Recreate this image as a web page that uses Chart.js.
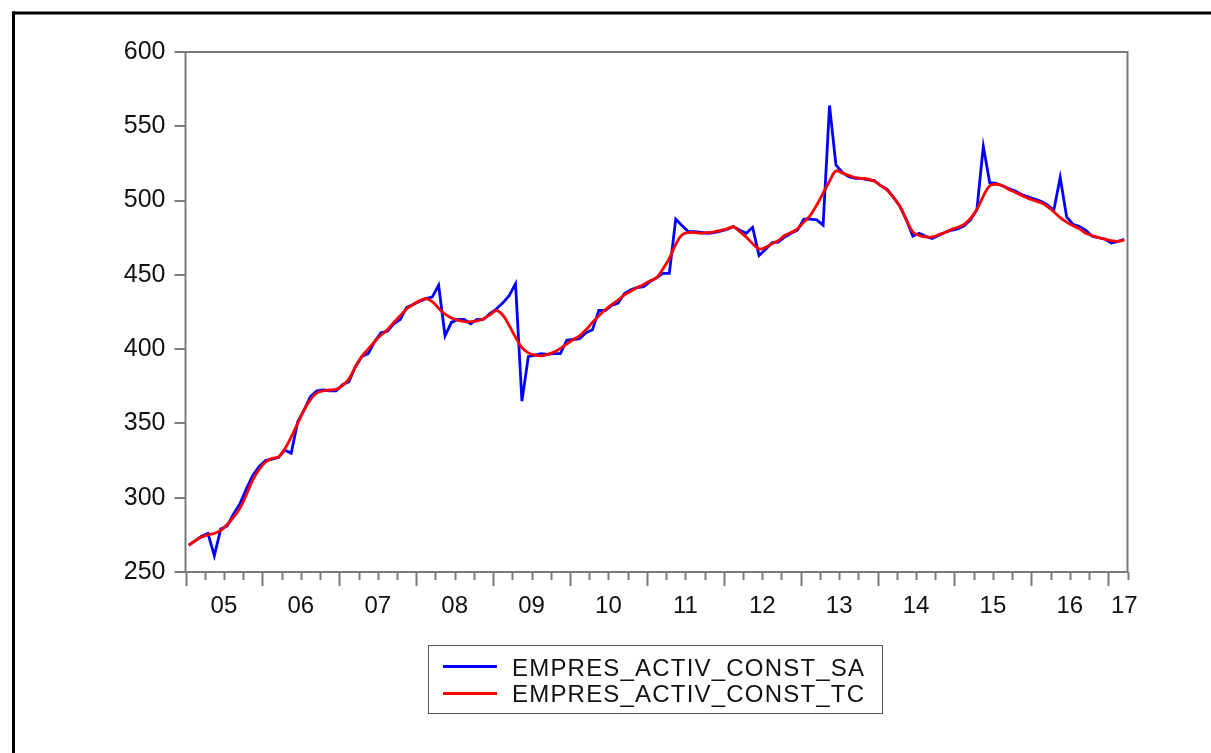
<!DOCTYPE html>
<html><head><meta charset="utf-8">
<script src="https://cdn.jsdelivr.net/npm/chart.js@4.4.0/dist/chart.umd.min.js"></script>
<style>
html,body{margin:0;padding:0;background:#fff;}
#wrap{position:relative;width:1211px;height:753px;overflow:hidden;background:#fff;}
#c{position:absolute;left:0;top:0;}
#legend{position:absolute;left:428px;top:645px;width:455px;height:69px;border:1.5px solid #555;box-sizing:border-box;font-family:'Liberation Sans',Arial,sans-serif;font-size:24px;letter-spacing:1.2px;color:#111;}
.sw{position:absolute;left:14px;width:54px;height:2.5px;}
.lbl{position:absolute;left:83px;white-space:nowrap;height:26px;line-height:26px;}
</style></head>
<body>
<div id="wrap">
<canvas id="c" width="1211" height="753"></canvas>
<div id="legend"></div>
</div>
<script>
// Monthly observations, 2005M01 .. 2017M03
const startYear = 2005;
const yearLabels = ['05','06','07','08','09','10','11','12','13','14','15','16','17'];
const seriesNames = ['EMPRES_ACTIV_CONST_SA','EMPRES_ACTIV_CONST_TC'];
const seriesColors = ['#0000ff','#ff0000'];
const yTicks = [250,300,350,400,450,500,550,600];

const saValues = [
268,271,274,276,261,279,281,289,296,306,315,321,
325,326,327,332,330,351,359,368,372,372.5,372,372,
376,378,388,395,397,405,411,412,417,420,428,430,
432,434,435,443,409,418,420,420,417,420,420,424,
427,431,436,444,365,395,396,397,396.5,397,397,406,
406.5,407,411,413,426,426,429.5,431,437.5,440,441.5,442,
445.5,448,451,451,487.5,483,479,479,478.5,478,478.5,479.5,
480.5,482.5,480,478,482,463,467,471.5,472,475.5,478,480,
487.5,487.5,487,483.5,564,524,519,516,515,515,514,513.5,
510,507.5,502,496,487,476,478,476,474.5,476.5,478.5,480,
481,483,487,494,536.5,512,511.5,510,508,506.5,504,502.5,
501,499.5,497,493.5,515.5,489,484,482.5,480,476,475,474,
471.5,472.5,474
];
const tcValues = [
268,271,273.5,275,276,278,282,287,293,302,312,319,
324,326.5,327.5,333,341,350,359,366,370.5,372,372.5,373,
375.5,380,388,395,400,405,409.5,413,418,422.5,427,430,
432.5,434,432,427.5,423.5,421,419.5,418.5,418.5,419,420.5,423,
426,423,416,408,401,397.5,396,395.5,396.5,398,400.5,403.5,
406.5,409,413,418,422.5,426.5,430,433,436.5,439,441.5,443.5,
446,448,454,461,470.5,477,478.5,478.5,478,478.5,479,480,
481,482.3,479,475.5,471,467.5,468.5,471,473,476.5,478.5,481,
485.5,490,497,505,513,520,518.5,517,515.5,515,514.5,513,
510,507,502,496,487,479,476.5,475.5,475.5,477,478.5,480.5,
482,484,488,494,503,510,511,510,507.5,505.5,503.5,501.5,
500,498.5,496,492.5,488.5,485.5,483,481,478,476.5,475,474,
473,472.5,473.5
];

const nObs = saValues.length;
const FONT = "'Liberation Sans', Arial, sans-serif";
const GRAY = '#7a7a7a';

const frame = {
  id:'frame',
  beforeDraw(chart){
    const c = chart.ctx;
    c.save();
    c.fillStyle = '#fff';
    c.fillRect(0,0,chart.width,chart.height);
    c.fillStyle = '#000';
    c.fillRect(12,11.5,3,chart.height);
    c.fillRect(12,11.5,chart.width,3);
    c.restore();
  },
  beforeDatasetsDraw(chart){
    const a = chart.chartArea, c = chart.ctx, xs = chart.scales.x;
    c.save();
    c.strokeStyle = GRAY; c.lineWidth = 2;
    c.strokeRect(a.left, a.top, a.right-a.left, a.bottom-a.top);
    // quarter / year tick marks below the axis
    c.lineWidth = 2;
    for (let k=0; -0.5+3*k <= nObs-0.5+1e-6; k++){
      const x = Math.round(xs.getPixelForValue(-0.5+3*k))+0.5;
      const len = (k%4===0) ? 14 : 8;
      c.beginPath(); c.moveTo(x, a.bottom); c.lineTo(x, a.bottom+len); c.stroke();
    }
    c.restore();
  }
};

const labelPos = yearLabels.map((l,k)=> Math.min(5.5+12*k, nObs-1));

new Chart(document.getElementById('c'), {
  type:'line',
  data:{
    datasets:[
      {label:seriesNames[0], data:saValues.map((v,i)=>({x:i,y:v})), borderColor:seriesColors[0], borderWidth:2.8, pointRadius:0, tension:0, order:2},
      {label:seriesNames[1], data:tcValues.map((v,i)=>({x:i,y:v})), borderColor:seriesColors[1], borderWidth:2.8, pointRadius:0, tension:0.4, order:1}
    ]
  },
  options:{
    responsive:false, animation:false, devicePixelRatio:1,
    layout:{padding:{left:0, top:52, right:83.5, bottom:0}},
    plugins:{legend:{display:false}, tooltip:{enabled:false}},
    scales:{
      x:{
        type:'linear', min:-0.5, max:nObs-0.5,
        grid:{display:false}, border:{display:false},
        afterBuildTicks(s){ s.ticks = labelPos.map(v=>({value:v})); },
        afterFit(s){ s.height = 181; },
        ticks:{autoSkip:false, maxRotation:0, padding:12, color:'#111',
          font:{family:FONT, size:24},
          callback(v){ const k = labelPos.indexOf(v); return k>=0 ? yearLabels[k] : ''; }
        }
      },
      y:{
        min:250, max:600,
        afterBuildTicks(s){ s.ticks = yTicks.map(v=>({value:v})); },
        afterFit(s){ s.width = 185.5; },
        grid:{drawOnChartArea:false, tickLength:11, color:GRAY, lineWidth:2},
        border:{display:false},
        ticks:{padding:9, color:'#111', font:{family:FONT, size:25}}
      }
    }
  },
  plugins:[frame]
});

// legend
const lg = document.getElementById('legend');
const rowsY = [[20,8.5],[47,35]];
seriesNames.forEach((n,i)=>{
  const sw = document.createElement('div'); sw.className='sw';
  sw.style.top = (rowsY[i][0]-1)+'px'; sw.style.background = seriesColors[i];
  const t = document.createElement('div'); t.className='lbl';
  t.style.top = rowsY[i][1]+'px'; t.textContent = n;
  lg.appendChild(sw); lg.appendChild(t);
});
</script>
</body></html>
